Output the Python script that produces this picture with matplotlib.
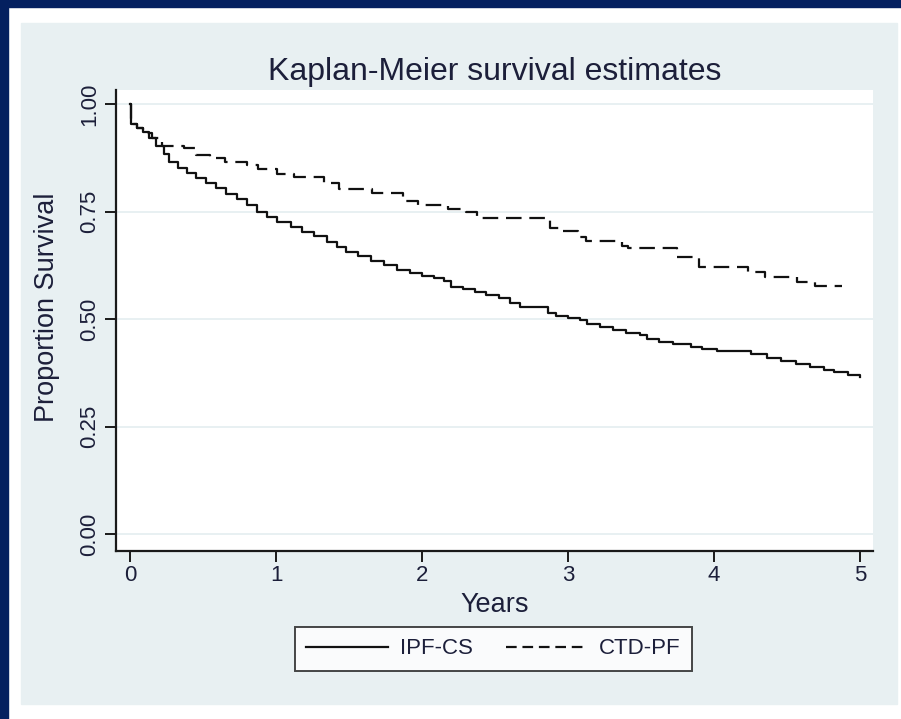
import matplotlib
matplotlib.use('Agg')
import matplotlib.pyplot as plt
from matplotlib.patches import Rectangle
from matplotlib.lines import Line2D

plt.rcParams['font.family'] = ['Liberation Sans', 'DejaVu Sans']

# Kaplan-Meier step estimates: time in years, proportion surviving
ipf_years = [0.00, 0.01, 0.05, 0.09, 0.13, 0.18, 0.23, 0.27, 0.33, 0.39,
             0.45, 0.52, 0.59, 0.66, 0.73, 0.80, 0.87, 0.94, 1.01, 1.10,
             1.18, 1.26, 1.35, 1.42, 1.48, 1.56, 1.65, 1.74, 1.83, 1.92,
             2.00, 2.08, 2.15, 2.20, 2.28, 2.36, 2.44, 2.53, 2.60, 2.67,
             2.86, 2.92, 3.00, 3.08, 3.13, 3.22, 3.31, 3.40, 3.49, 3.54,
             3.62, 3.72, 3.84, 3.92, 4.02, 4.25, 4.36, 4.46, 4.56, 4.66,
             4.75, 4.82, 4.92, 5.00]
ipf_surv = [1.000, 0.953, 0.944, 0.936, 0.921, 0.902, 0.884, 0.866, 0.852, 0.839,
            0.828, 0.816, 0.804, 0.791, 0.778, 0.764, 0.750, 0.737, 0.726, 0.715,
            0.703, 0.692, 0.680, 0.668, 0.657, 0.646, 0.636, 0.626, 0.615, 0.606,
            0.600, 0.596, 0.588, 0.575, 0.570, 0.563, 0.557, 0.550, 0.538, 0.527,
            0.515, 0.508, 0.503, 0.497, 0.488, 0.481, 0.474, 0.468, 0.463, 0.453,
            0.447, 0.442, 0.436, 0.431, 0.426, 0.418, 0.409, 0.402, 0.396, 0.389,
            0.381, 0.376, 0.370, 0.364]

ctd_years = [0.00, 0.01, 0.05, 0.09, 0.15, 0.22, 0.37, 0.45, 0.55, 0.65,
             0.80, 0.88, 1.01, 1.12, 1.33, 1.43, 1.66, 1.87, 1.97, 2.18,
             2.30, 2.38, 2.88, 2.95, 3.07, 3.12, 3.37, 3.41, 3.745, 3.90,
             4.23, 4.35, 4.57, 4.69, 4.88]
ctd_surv = [1.000, 0.953, 0.944, 0.932, 0.921, 0.903, 0.897, 0.882, 0.874, 0.866,
            0.858, 0.849, 0.838, 0.831, 0.816, 0.802, 0.792, 0.775, 0.764, 0.756,
            0.750, 0.734, 0.712, 0.705, 0.690, 0.681, 0.670, 0.664, 0.645, 0.620,
            0.610, 0.598, 0.587, 0.577, 0.577]

y_ticks = [0.0, 0.25, 0.5, 0.75, 1.0]
y_ticklabels = ['0.00', '0.25', '0.50', '0.75', '1.00']
x_ticks = [0, 1, 2, 3, 4, 5]
series_names = ['IPF-CS', 'CTD-PF']

W, H = 901, 719
navy = '#04205f'
panel = '#e8f0f2'
ink = '#1c1f3a'
line_col = '#111111'
lw = 1.6
dash = (7, 3.5)


def fx(px):
    return px / W


def fy(py):
    return 1 - py / H


fig = plt.figure(figsize=(W / 100, H / 100), dpi=100, facecolor='white')

# border bands and the light graph region
fig.add_artist(Rectangle((0, fy(7)), 1, 7 / H, transform=fig.transFigure,
                         color=navy, zorder=-2))
fig.add_artist(Rectangle((0, 0), 8 / W, 1, transform=fig.transFigure,
                         color=navy, zorder=-2))
fig.add_artist(Rectangle((fx(21), fy(704)), (897 - 21) / W, (704 - 23) / H,
                         transform=fig.transFigure, color=panel, zorder=-2))

ax = fig.add_axes([fx(116), fy(551), (873 - 116) / W, (551 - 90) / H])
ax.set_facecolor('white')

ax.step(ipf_years, ipf_surv, where='post', color=line_col, lw=lw)
ax.step(ctd_years, ctd_surv, where='post', color=line_col, lw=lw, dashes=dash)

ax.set_xlim(-0.096, 5.089)
ax.set_ylim(-0.0395, 1.0326)
ax.set_xticks(x_ticks)
ax.set_yticks(y_ticks, y_ticklabels)
ax.grid(axis='y', color='#e4edf0', lw=1.2)
ax.set_axisbelow(True)

for side in ['top', 'right']:
    ax.spines[side].set_visible(False)
for side in ['left', 'bottom']:
    ax.spines[side].set_linewidth(1.6)
    ax.spines[side].set_color('#1a1a1a')

ax.tick_params(direction='out', length=7.9, width=1.4, color='#1a1a1a',
               labelsize=16, labelcolor=ink)
ax.tick_params(axis='y', pad=3.6)
ax.tick_params(axis='x', pad=2.5)
plt.setp(ax.get_yticklabels(), rotation=90, va='center', ha='right')

fig.text(fx(495), fy(80), 'Kaplan-Meier survival estimates', ha='center',
         va='baseline', fontsize=23, color=ink)
fig.text(fx(495), fy(612), 'Years', ha='center', va='baseline',
         fontsize=19.5, color=ink)
fig.text(fx(47), fy(307), 'Proportion Survival', ha='center', va='center',
         rotation=90, fontsize=19.5, color=ink)

handles = [Line2D([], [], color=line_col, lw=lw),
           Line2D([], [], color=line_col, lw=lw, dashes=(4.8, 2.6))]
leg = fig.legend(handles, series_names, loc='center',
                 bbox_to_anchor=(fx(493.5), fy(649)), ncol=2, fontsize=16,
                 frameon=True, fancybox=False, edgecolor='#1a1a1a',
                 handlelength=3.7, handletextpad=0.5, columnspacing=1.5,
                 borderpad=0.5, labelcolor=ink)
leg.get_frame().set_linewidth(1.4)

fig.savefig('out.png', dpi=100, facecolor='white')
